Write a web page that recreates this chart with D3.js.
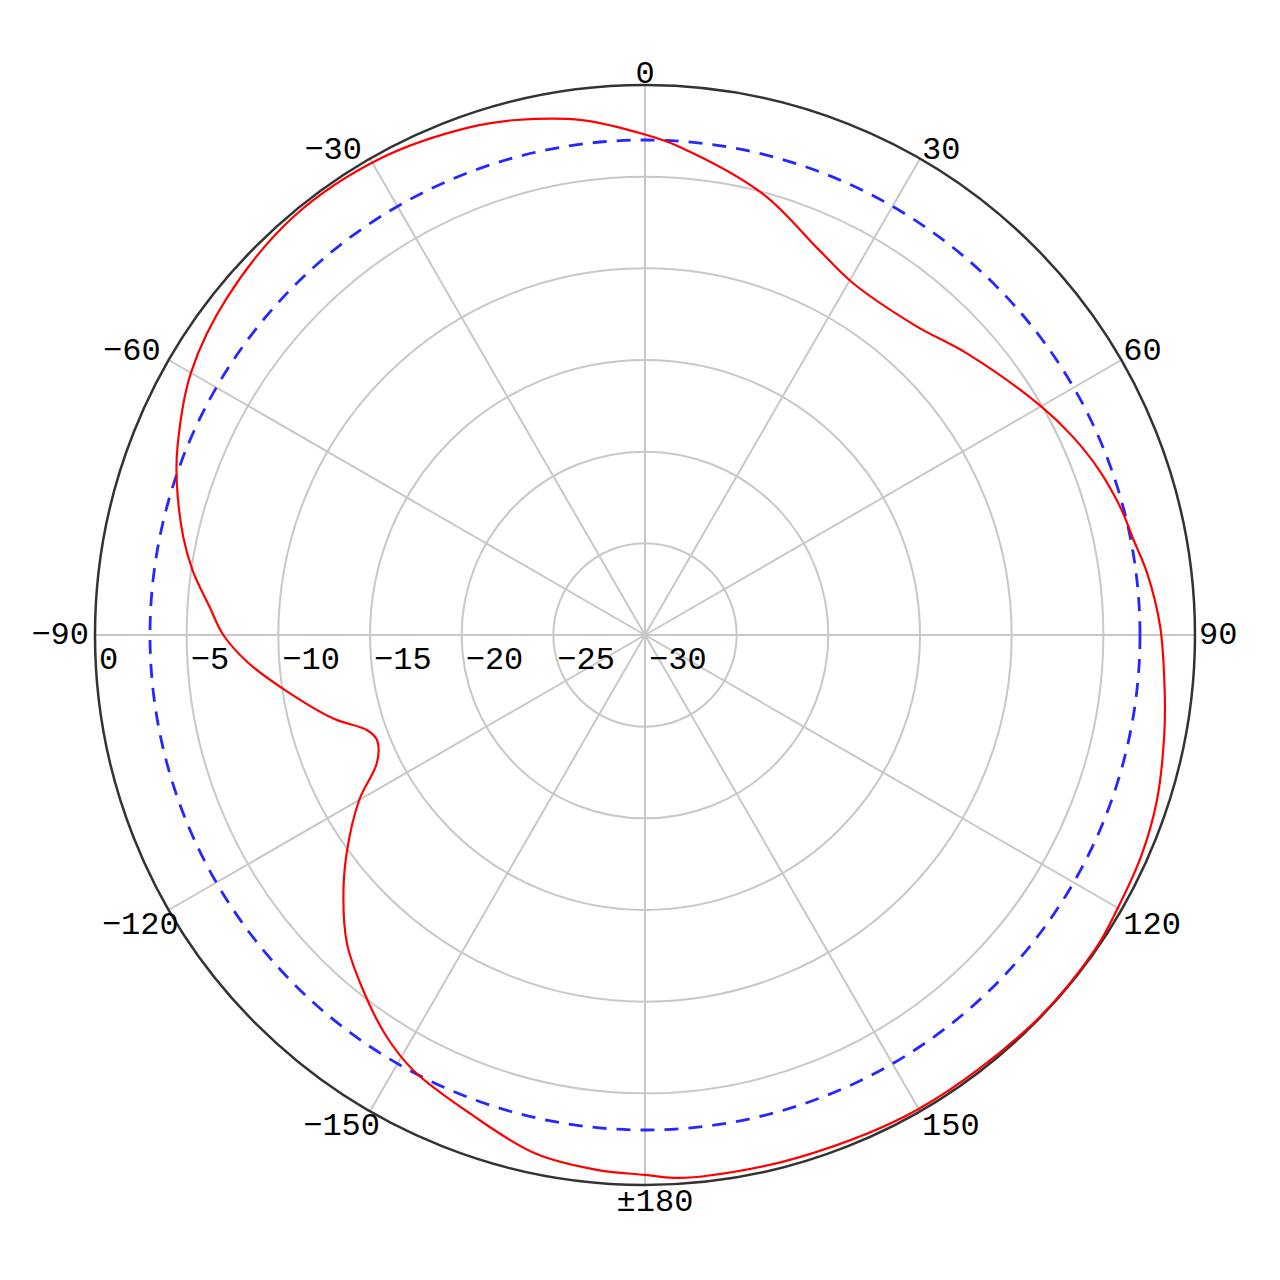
<!DOCTYPE html>
<html>
<head>
<meta charset="utf-8">
<script src="https://cdn.jsdelivr.net/npm/d3@7"></script>
<style>
  body { margin: 0; background: #fff; }
  text { font-family: "Liberation Mono", "DejaVu Sans Mono", monospace; font-size: 32px; fill: #000; }
</style>
</head>
<body>
<svg id="chart"></svg>
<script>
// measured pattern: angle in degrees (0 = up, clockwise), gain in dB
const angles = [-180, -175, -168, -160, -152, -147, -141, -136, -131, -126, -120, -115.5, -111.5, -109, -105, -98.6, -94, -90, -86.3, -82, -78, -72, -68, -60, -51, -40, -29, -19, -14, -7,
  0, 4, 15, 24, 30.5, 41, 49, 60, 65, 70, 75, 79, 83, 89, 96, 101, 108, 114, 120, 125, 135, 150, 163.5, 174, 177]
const gain = [-0.55, -0.7, -1.1, -2.2, -3.1, -4.0, -5.4, -6.6, -8.2, -9.9, -12.0, -13.8, -14.3, -14.0, -12.4, -10.1, -8.3, -7.0, -6.2, -5.1, -4.25, -3.15, -2.5, -1.4, -0.7, -0.2, -0.27, -0.7, -1.05, -1.7,
  -2.7, -3.3, -5.1, -6.9, -7.7, -7.6, -6.65, -5.05, -4.3, -3.65, -3.15, -2.85, -2.4, -1.9, -1.5, -1.15, -0.65, -0.37, -0.22, -0.05, -0.05, -0.15, -0.3, -0.3, -0.35]

const ringTicks = [0, -5, -10, -15, -20, -25, -30]
const angleTicks = [0, 30, 60, 90, 120, 150, 180, -150, -120, -90, -60, -30]
const angleLabels = ['0', '30', '60', '90', '120', '150', '±180', '−150', '−120', '−90', '−60', '−30']
const refLevel = -3

const width = 1280
const height = 1280
const cx = 645
const cy = 635
const outerR = 550

const svg = d3.select('#chart')
  .attr('width', width)
  .attr('height', height)

const g = svg.append('g')
  .attr('transform', `translate(${cx},${cy})`)

const rScale = d3.scaleLinear().domain([-30, 0]).range([0, outerR])
const toRad = d => d * Math.PI / 180

// grid rings
g.selectAll('.ring')
  .data(ringTicks.filter(d => d !== 0 && d !== -30))
  .enter()
  .append('circle')
  .attr('r', d => rScale(d))
  .attr('fill', 'none')
  .attr('stroke', '#c8c8c8')
  .attr('stroke-width', 2)

// spokes
g.selectAll('.spoke')
  .data(angleTicks)
  .enter()
  .append('line')
  .attr('x1', 0)
  .attr('y1', 0)
  .attr('x2', d => outerR * Math.sin(toRad(d)))
  .attr('y2', d => -outerR * Math.cos(toRad(d)))
  .attr('stroke', '#c8c8c8')
  .attr('stroke-width', 2)

// -3 dB reference circle
g.append('circle')
  .attr('r', rScale(refLevel))
  .attr('fill', 'none')
  .attr('stroke', '#2626ff')
  .attr('stroke-width', 2.8)
  .attr('stroke-dasharray', '14,10')

// outer circle
g.append('circle')
  .attr('r', outerR)
  .attr('fill', 'none')
  .attr('stroke', '#333')
  .attr('stroke-width', 2.5)

// pattern line
const pattern = angles.map((a, i) => [toRad(a), rScale(gain[i])])
const line = d3.lineRadial()
  .angle(d => d[0])
  .radius(d => d[1])
  .curve(d3.curveCatmullRomClosed.alpha(0.5))

g.append('path')
  .datum(pattern)
  .attr('d', line)
  .attr('fill', 'none')
  .attr('stroke', '#ff0000')
  .attr('stroke-width', 2.2)

// angle labels
angleTicks.forEach((a, i) => {
  const x = outerR * Math.sin(toRad(a))
  const y = -outerR * Math.cos(toRad(a))
  let anchor = 'middle'
  let dx = 0
  let dy = 0
  let baseline = 'auto'
  if (a === 0) { dy = -2 }
  else if (a === 180) { dx = 10; dy = 4; baseline = 'hanging' }
  else if (a === 90) { anchor = 'start'; dx = 4; baseline = 'central' }
  else if (a === -90) { anchor = 'end'; dx = -6; baseline = 'central' }
  else {
    anchor = a > 0 ? 'start' : 'end'
    dx = a > 0 ? 2 : (Math.abs(a) > 90 ? 10 : -8)
    if (Math.abs(a) < 90) { dy = 0 } else { dy = 2; baseline = 'hanging' }
  }
  g.append('text')
    .attr('x', x + dx)
    .attr('y', y + dy)
    .attr('text-anchor', anchor)
    .attr('dominant-baseline', baseline)
    .text(angleLabels[i])
})

// radial labels along the -90 spoke
g.selectAll('.ring-label')
  .data(ringTicks)
  .enter()
  .append('text')
  .attr('x', d => -rScale(d) + 4)
  .attr('y', 12)
  .attr('dominant-baseline', 'hanging')
  .text(d => d === 0 ? '0' : '−' + Math.abs(d))
</script>
</body>
</html>
